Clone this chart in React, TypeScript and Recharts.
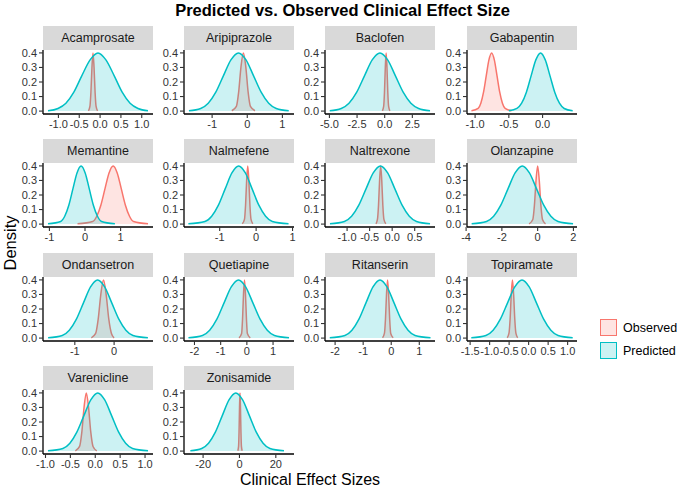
import React from 'react';
import { ComposedChart, Area, XAxis, YAxis } from 'recharts';

const OBS_COLOR = '#F8766D';
const PRED_COLOR = '#00BFC4';
const FONT = '"Liberation Sans", Arial, Helvetica, sans-serif';

// density curves: [clinical effect size, density]
const acamprosateObserved = [[-0.28, 0.002], [-0.244, 0.032], [-0.22, 0.13], [-0.195, 0.301], [-0.17, 0.4], [-0.145, 0.301], [-0.12, 0.13], [-0.096, 0.032], [-0.06, 0.002]];
const acamprosatePredicted = [[-1.25, 0.002], [-1.01, 0.018], [-0.82, 0.054], [-0.63, 0.13], [-0.44, 0.242], [-0.24, 0.352], [-0.05, 0.4], [0.14, 0.352], [0.34, 0.242], [0.53, 0.13], [0.72, 0.054], [0.91, 0.018], [1.15, 0.002]];

const aripiprazoleObserved = [[-0.44, 0.002], [-0.31, 0.032], [-0.245, 0.13], [-0.18, 0.301], [-0.11, 0.4], [-0.04, 0.301], [0.025, 0.13], [0.09, 0.032], [0.22, 0.002]];
const aripiprazolePredicted = [[-1.66, 0.002], [-1.325, 0.018], [-1.11, 0.054], [-0.895, 0.13], [-0.68, 0.242], [-0.465, 0.352], [-0.25, 0.4], [-0.035, 0.352], [0.18, 0.242], [0.395, 0.13], [0.61, 0.054], [0.825, 0.018], [1.18, 0.002]];

const baclofenObserved = [[-0.21, 0.002], [-0.095, 0.032], [-0.02, 0.13], [0.055, 0.301], [0.13, 0.4], [0.205, 0.301], [0.28, 0.13], [0.355, 0.032], [0.47, 0.002]];
const baclofenPredicted = [[-4.97, 0.002], [-3.93, 0.018], [-3.23, 0.054], [-2.53, 0.13], [-1.83, 0.242], [-1.13, 0.352], [-0.43, 0.4], [0.27, 0.352], [0.97, 0.242], [1.67, 0.13], [2.37, 0.054], [3.07, 0.018], [4.1, 0.002]];

const gabapentinObserved = [[-1.054, 0.002], [-0.955, 0.018], [-0.915, 0.054], [-0.875, 0.13], [-0.835, 0.242], [-0.795, 0.352], [-0.755, 0.4], [-0.715, 0.352], [-0.675, 0.242], [-0.635, 0.13], [-0.595, 0.054], [-0.555, 0.018], [-0.46, 0.002]];
const gabapentinPredicted = [[-0.5, 0.002], [-0.38, 0.018], [-0.31, 0.054], [-0.24, 0.13], [-0.17, 0.242], [-0.1, 0.352], [-0.03, 0.4], [0.04, 0.352], [0.11, 0.242], [0.18, 0.13], [0.25, 0.054], [0.32, 0.018], [0.446, 0.002]];

const memantineObserved = [[-0.21, 0.002], [0.215, 0.018], [0.33, 0.054], [0.445, 0.13], [0.56, 0.242], [0.675, 0.352], [0.79, 0.4], [0.905, 0.352], [1.02, 0.242], [1.135, 0.13], [1.25, 0.054], [1.365, 0.018], [1.77, 0.002]];
const memantinePredicted = [[-1.04, 0.002], [-0.685, 0.018], [-0.57, 0.054], [-0.455, 0.13], [-0.34, 0.242], [-0.225, 0.352], [-0.11, 0.4], [0.005, 0.352], [0.12, 0.242], [0.235, 0.13], [0.35, 0.054], [0.465, 0.018], [0.84, 0.002]];

const nalmefeneObserved = [[-0.38, 0.002], [-0.32, 0.032], [-0.29, 0.13], [-0.26, 0.301], [-0.23, 0.4], [-0.2, 0.301], [-0.17, 0.13], [-0.14, 0.032], [-0.09, 0.002]];
const nalmefenePredicted = [[-1.86, 0.002], [-1.405, 0.018], [-1.22, 0.054], [-1.035, 0.13], [-0.85, 0.242], [-0.665, 0.352], [-0.48, 0.4], [-0.295, 0.352], [-0.11, 0.242], [0.075, 0.13], [0.26, 0.054], [0.445, 0.018], [0.89, 0.002]];

const naltrexoneObserved = [[-0.36, 0.002], [-0.327, 0.032], [-0.303, 0.13], [-0.279, 0.301], [-0.255, 0.4], [-0.231, 0.301], [-0.207, 0.13], [-0.183, 0.032], [-0.14, 0.002]];
const naltrexonePredicted = [[-1.38, 0.002], [-1.06, 0.018], [-0.9, 0.054], [-0.74, 0.13], [-0.58, 0.242], [-0.42, 0.352], [-0.26, 0.4], [-0.1, 0.352], [0.06, 0.242], [0.22, 0.13], [0.38, 0.054], [0.54, 0.018], [0.84, 0.002]];

const olanzapineObserved = [[-0.48, 0.002], [-0.27, 0.032], [-0.18, 0.13], [-0.09, 0.301], [0, 0.4], [0.09, 0.301], [0.18, 0.13], [0.27, 0.032], [0.44, 0.002]];
const olanzapinePredicted = [[-3.69, 0.002], [-2.86, 0.018], [-2.46, 0.054], [-2.06, 0.13], [-1.66, 0.242], [-1.26, 0.352], [-0.86, 0.4], [-0.46, 0.352], [-0.06, 0.242], [0.34, 0.13], [0.74, 0.054], [1.14, 0.018], [1.98, 0.002]];

const ondansetronObserved = [[-0.58, 0.002], [-0.47, 0.032], [-0.405, 0.13], [-0.338, 0.301], [-0.27, 0.4], [-0.203, 0.301], [-0.135, 0.13], [-0.068, 0.032], [0, 0.002]];
const ondansetronPredicted = [[-1.68, 0.002], [-1.32, 0.018], [-1.14, 0.054], [-0.96, 0.13], [-0.78, 0.242], [-0.6, 0.352], [-0.42, 0.4], [-0.24, 0.352], [-0.06, 0.242], [0.12, 0.13], [0.3, 0.054], [0.48, 0.018], [0.86, 0.002]];

const quetiapineObserved = [[-0.3, 0.002], [-0.2, 0.032], [-0.165, 0.13], [-0.128, 0.301], [-0.09, 0.4], [-0.053, 0.301], [-0.015, 0.13], [0.02, 0.032], [0.13, 0.002]];
const quetiapinePredicted = [[-2.23, 0.002], [-1.695, 0.018], [-1.42, 0.054], [-1.145, 0.13], [-0.87, 0.242], [-0.595, 0.352], [-0.32, 0.4], [-0.045, 0.352], [0.23, 0.242], [0.505, 0.13], [0.78, 0.054], [1.055, 0.018], [1.61, 0.002]];

const ritanserinObserved = [[-0.31, 0.002], [-0.243, 0.032], [-0.205, 0.13], [-0.168, 0.301], [-0.13, 0.4], [-0.093, 0.301], [-0.055, 0.13], [-0.018, 0.032], [0.07, 0.002]];
const ritanserinPredicted = [[-2.19, 0.002], [-1.65, 0.018], [-1.4, 0.054], [-1.15, 0.13], [-0.9, 0.242], [-0.65, 0.352], [-0.4, 0.4], [-0.15, 0.352], [0.1, 0.242], [0.35, 0.13], [0.6, 0.054], [0.85, 0.018], [1.4, 0.002]];

const topiramateObserved = [[-0.55, 0.002], [-0.505, 0.032], [-0.475, 0.13], [-0.445, 0.301], [-0.415, 0.4], [-0.385, 0.301], [-0.355, 0.13], [-0.325, 0.032], [-0.28, 0.002]];
const topiramatePredicted = [[-1.47, 0.002], [-1.095, 0.018], [-0.91, 0.054], [-0.725, 0.13], [-0.54, 0.242], [-0.355, 0.352], [-0.17, 0.4], [0.015, 0.352], [0.2, 0.242], [0.385, 0.13], [0.57, 0.054], [0.755, 0.018], [1.13, 0.002]];

const vareniclineObserved = [[-0.4, 0.002], [-0.315, 0.032], [-0.27, 0.13], [-0.225, 0.301], [-0.18, 0.4], [-0.135, 0.301], [-0.09, 0.13], [-0.045, 0.032], [0.03, 0.002]];
const vareniclinePredicted = [[-0.95, 0.002], [-0.65, 0.018], [-0.51, 0.054], [-0.37, 0.13], [-0.23, 0.242], [-0.09, 0.352], [0.05, 0.4], [0.19, 0.352], [0.33, 0.242], [0.47, 0.13], [0.61, 0.054], [0.75, 0.018], [1.06, 0.002]];

const zonisamideObserved = [[-0.9, 0.002], [-0.49, 0.032], [-0.23, 0.13], [0.04, 0.301], [0.3, 0.4], [0.56, 0.301], [0.83, 0.13], [1.09, 0.032], [1.5, 0.002]];
const zonisamidePredicted = [[-27, 0.002], [-20.75, 0.018], [-17, 0.054], [-13.25, 0.13], [-9.5, 0.242], [-5.75, 0.352], [-2, 0.4], [1.75, 0.352], [5.5, 0.242], [9.25, 0.13], [13, 0.054], [16.75, 0.018], [24.5, 0.002]];

const drugs = ['Acamprosate', 'Aripiprazole', 'Baclofen', 'Gabapentin', 'Memantine', 'Nalmefene', 'Naltrexone', 'Olanzapine', 'Ondansetron', 'Quetiapine', 'Ritanserin', 'Topiramate', 'Varenicline', 'Zonisamide'];
const observedCurves = [acamprosateObserved, aripiprazoleObserved, baclofenObserved, gabapentinObserved, memantineObserved, nalmefeneObserved, naltrexoneObserved, olanzapineObserved, ondansetronObserved, quetiapineObserved, ritanserinObserved, topiramateObserved, vareniclineObserved, zonisamideObserved];
const predictedCurves = [acamprosatePredicted, aripiprazolePredicted, baclofenPredicted, gabapentinPredicted, memantinePredicted, nalmefenePredicted, naltrexonePredicted, olanzapinePredicted, ondansetronPredicted, quetiapinePredicted, ritanserinPredicted, topiramatePredicted, vareniclinePredicted, zonisamidePredicted];

const xDomains = [[-1.37, 1.27], [-1.8, 1.33], [-5.4, 4.55], [-1.12, 0.51], [-1.18, 1.91], [-1.98, 1.04], [-1.49, 0.95], [-3.95, 2.2], [-1.81, 0.99], [-2.4, 1.8], [-2.36, 1.56], [-1.58, 1.24], [-1.05, 1.16], [-30.5, 30]];
const xTicks = [[-1, -0.5, 0, 0.5, 1], [-1, 0, 1], [-5, -2.5, 0, 2.5], [-1, -0.5, 0], [-1, 0, 1], [-1, 0, 1], [-1, -0.5, 0, 0.5], [-4, -2, 0, 2], [-1, 0], [-2, -1, 0, 1], [-2, -1, 0, 1], [-1.5, -1, -0.5, 0, 0.5, 1], [-1, -0.5, 0, 0.5, 1], [-20, 0, 20]];
const xTickDecimals = [1, 0, 1, 1, 0, 0, 1, 0, 0, 0, 0, 1, 1, 0];
const yTicks = [0, 0.1, 0.2, 0.3, 0.4];
const legendLabels = ['Observed', 'Predicted'];

// layout of the facet grid
const colLeft = [43, 184, 325, 467];
const rowTop = [50, 163, 277, 390];
const PLOT_W = 110;
const PLOT_H = 64;
const STRIP_H = 24;
const Y_AXIS_W = 30;
const X_AXIS_H = 22;
const TOP_PAD = 6;
const RIGHT_PAD = 8;

type Row = { x: number; observed?: number; predicted?: number };

function mergeCurves(obs: number[][], pred: number[][]): Row[] {
  const rows = new Map<number, Row>();
  obs.forEach(([x, y]) => {
    const r = rows.get(x) ?? { x };
    r.observed = y;
    rows.set(x, r);
  });
  pred.forEach(([x, y]) => {
    const r = rows.get(x) ?? { x };
    r.predicted = y;
    rows.set(x, r);
  });
  return Array.from(rows.values()).sort((a, b) => a.x - b.x);
}

const tickStyle = { fontSize: 11, fill: '#333333', fontFamily: FONT };

const Panel: React.FC<{ index: number }> = ({ index }) => {
  const col = index % 4;
  const row = Math.floor(index / 4);
  const left = colLeft[col];
  const top = rowTop[row];
  const data = mergeCurves(observedCurves[index], predictedCurves[index]);
  const decimals = xTickDecimals[index];

  return (
    <>
      <div
        style={{
          position: 'absolute',
          left,
          top: top - STRIP_H,
          width: PLOT_W,
          height: STRIP_H,
          background: '#D9D9D9',
          color: '#1A1A1A',
          fontSize: 12.5,
          lineHeight: `${STRIP_H}px`,
          textAlign: 'center',
          fontFamily: FONT,
        }}
      >
        {drugs[index]}
      </div>
      <div style={{ position: 'absolute', left: left - Y_AXIS_W, top: top - TOP_PAD }}>
        <ComposedChart
          width={Y_AXIS_W + PLOT_W + RIGHT_PAD}
          height={TOP_PAD + PLOT_H + X_AXIS_H}
          data={data}
          margin={{ top: TOP_PAD, right: RIGHT_PAD, bottom: 0, left: 0 }}
        >
          <XAxis
            dataKey="x"
            type="number"
            domain={xDomains[index]}
            ticks={xTicks[index]}
            interval={0}
            allowDataOverflow
            height={X_AXIS_H}
            tickSize={4}
            tickMargin={2}
            tick={tickStyle}
            tickFormatter={(v: number) => v.toFixed(decimals)}
            axisLine={{ stroke: '#000', strokeWidth: 1.3 }}
            tickLine={{ stroke: '#333', strokeWidth: 1.1 }}
          />
          <YAxis
            type="number"
            domain={[-0.02, 0.42]}
            ticks={yTicks}
            interval={0}
            allowDataOverflow
            width={Y_AXIS_W}
            tickSize={4}
            tickMargin={2}
            tick={tickStyle}
            tickFormatter={(v: number) => v.toFixed(1)}
            axisLine={{ stroke: '#000', strokeWidth: 1.3 }}
            tickLine={{ stroke: '#333', strokeWidth: 1.1 }}
          />
          <Area
            type="monotone"
            dataKey="observed"
            stroke={OBS_COLOR}
            strokeWidth={1.5}
            fill={OBS_COLOR}
            fillOpacity={0.2}
            baseValue={0}
            connectNulls
            dot={false}
            activeDot={false}
            isAnimationActive={false}
          />
          <Area
            type="monotone"
            dataKey="predicted"
            stroke={PRED_COLOR}
            strokeWidth={1.5}
            fill={PRED_COLOR}
            fillOpacity={0.2}
            baseValue={0}
            connectNulls
            dot={false}
            activeDot={false}
            isAnimationActive={false}
          />
        </ComposedChart>
      </div>
    </>
  );
};

export default function App() {
  return (
    <div
      style={{
        position: 'absolute',
        left: 0,
        top: 0,
        width: 685,
        height: 488,
        background: '#fff',
        fontFamily: FONT,
        overflow: 'hidden',
      }}
    >
      <div
        style={{
          position: 'absolute',
          left: 0,
          top: 0,
          width: 685,
          textAlign: 'center',
          fontSize: 16.5,
          fontWeight: 'bold',
          lineHeight: '20px',
          color: '#000',
        }}
      >
        Predicted vs. Observed Clinical Effect Size
      </div>

      {drugs.map((_, i) => (
        <Panel key={drugs[i]} index={i} />
      ))}

      <div
        style={{
          position: 'absolute',
          left: 10 - 45,
          top: 243 - 11,
          width: 90,
          height: 22,
          lineHeight: '22px',
          textAlign: 'center',
          fontSize: 16.5,
          transform: 'rotate(-90deg)',
          color: '#000',
        }}
      >
        Density
      </div>

      <div
        style={{
          position: 'absolute',
          left: 160,
          top: 472,
          width: 300,
          textAlign: 'center',
          fontSize: 16,
          lineHeight: '16px',
          color: '#000',
        }}
      >
        Clinical Effect Sizes
      </div>

      {legendLabels.map((label, i) => {
        const color = i === 0 ? OBS_COLOR : PRED_COLOR;
        const fill = i === 0 ? 'rgba(248,118,109,0.2)' : 'rgba(0,191,196,0.2)';
        return (
          <div key={label} style={{ position: 'absolute', left: 600, top: 318 + i * 23, height: 19, display: 'flex', alignItems: 'center' }}>
            <div style={{ width: 15, height: 15, border: `1.4px solid ${color}`, background: fill }} />
            <span style={{ marginLeft: 6, fontSize: 12.5, color: '#000' }}>{label}</span>
          </div>
        );
      })}
    </div>
  );
}
